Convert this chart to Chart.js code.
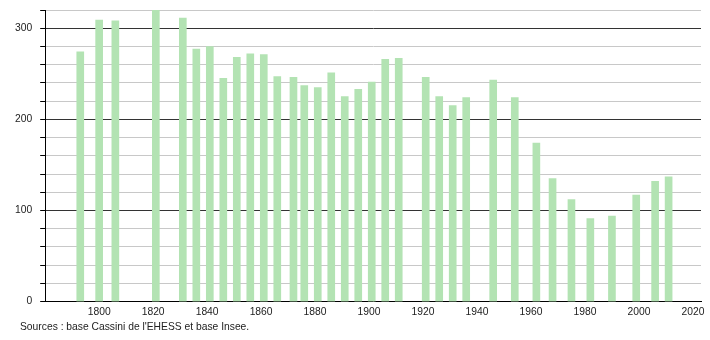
<!DOCTYPE html>
<html>
<head>
<meta charset="utf-8">
<script src="https://cdn.jsdelivr.net/npm/chart.js@4/dist/chart.umd.min.js"></script>
<style>
  html, body { margin: 0; padding: 0; background: #fff; }
  #wrap { position: relative; width: 710px; height: 340px; }
  #source {
    position: absolute; left: 20px; top: 321px;
    font: 10.3px "Liberation Sans", Arial, sans-serif; color: #222;
  }
</style>
</head>
<body>
<div id="wrap">
  <canvas id="popChart" width="710" height="340"></canvas>
  <div id="source">Sources : base Cassini de l'EHESS et base Insee.</div>
</div>
<script>
// recensements
var years = [1793, 1800, 1806, 1821, 1831, 1836, 1841, 1846, 1851, 1856, 1861, 1866,
             1872, 1876, 1881, 1886, 1891, 1896, 1901, 1906, 1911, 1921, 1926, 1931,
             1936, 1946, 1954, 1962, 1968, 1975, 1982, 1990, 1999, 2006, 2011];
var population = [274, 309, 308, 320, 311, 277, 280, 245, 268, 272, 271, 247,
                  246, 237, 235, 251, 225, 233, 241, 266, 267, 246, 225, 215,
                  224, 243, 224, 174, 135, 112, 91, 94, 117, 132, 137];
var yearTicks = [1800, 1820, 1840, 1860, 1880, 1900, 1920, 1940, 1960, 1980, 2000, 2020];

var points = years.map(function (y, i) { return { x: y, y: population[i] }; });

var ctx = document.getElementById('popChart').getContext('2d');
new Chart(ctx, {
    type: 'bar',
    data: {
        datasets: [{
            data: points,
            backgroundColor: '#b3e3b3',
            borderWidth: 0,
            barThickness: 7
        }]
    },
    options: {
        responsive: false,
        animation: false,
        layout: { padding: { left: 7, right: 9, top: 10, bottom: 18 } },
        plugins: {
            legend: { display: false },
            tooltip: { enabled: false }
        },
        scales: {
            x: {
                type: 'linear',
                offset: false,
                min: 1780,
                max: 2023,
                afterBuildTicks: function (axis) {
                    axis.ticks = yearTicks.map(function (v) { return { value: v }; });
                },
                grid: { display: false, drawTicks: false, offset: false },
                border: { display: true, color: '#000', width: 1 },
                ticks: {
                    padding: 4,
                    color: '#222',
                    font: { family: 'Liberation Sans', size: 10.3 },
                    maxRotation: 0,
                    callback: function (v) { return String(v); }
                }
            },
            y: {
                min: 0,
                max: 320,
                afterFit: function (scale) {
                    scale.paddingTop = 0;
                },
                ticks: {
                    stepSize: 20,
                    padding: 8,
                    color: '#222',
                    font: { family: 'Liberation Sans', size: 10.3 },
                    callback: function (v) { return v % 100 === 0 ? String(v) : ''; }
                },
                grid: {
                    color: function (c) { return c.tick && c.tick.value % 100 === 0 && c.tick.value > 0 ? '#333' : '#c8c8c8'; },
                    tickColor: '#000',
                    tickLength: 5,
                    lineWidth: 1
                },
                border: { display: true, color: '#000', width: 1 }
            }
        }
    }
});
</script>
</body>
</html>
